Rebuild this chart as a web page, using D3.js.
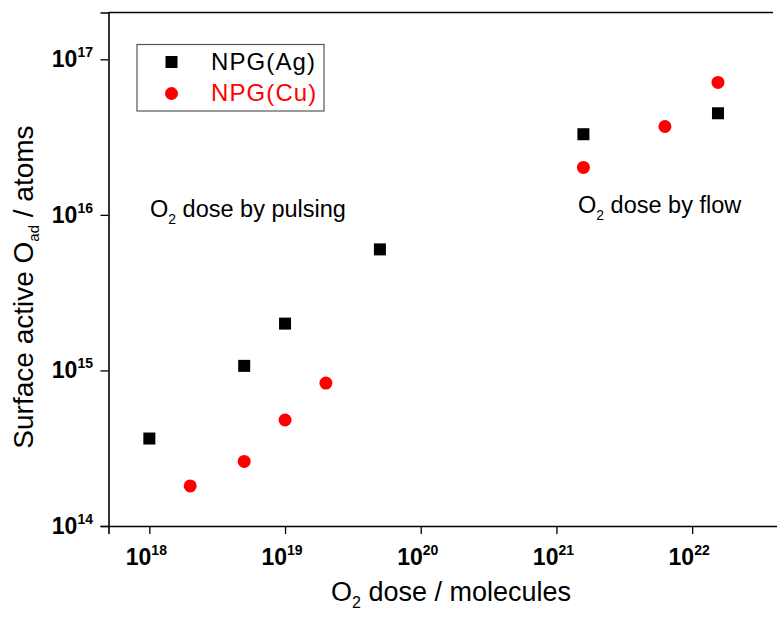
<!DOCTYPE html>
<html>
<meta charset="utf-8">
<style>
  body { margin: 0; background: #fff; }
  svg { font-family: Arial, "Liberation Sans", sans-serif; }
</style>

<body>
  <svg></svg>
</body>

<script src="https://d3js.org/d3.v7.min.js"></script>

<script>

  var W = 777, H = 621;

  var svg = d3.select("svg")
    .attr("width", W)
    .attr("height", H);

  // data
  var agDose = [1e18, 5e18, 1e19, 5e19, 1.58e21, 1.55e22];
  var agAtoms = [3.65e14, 1.07e15, 2.0e15, 6.0e15, 3.3e16, 4.5e16];
  var cuDose = [2e18, 5e18, 1e19, 2e19, 1.58e21, 6.3e21, 1.55e22];
  var cuAtoms = [1.81e14, 2.6e14, 4.8e14, 8.3e14, 2.02e16, 3.7e16, 7.1e16];
  var seriesNames = ["NPG(Ag)", "NPG(Cu)"];
  var seriesColors = ["#000000", "#ff0000"];
  var xMajor = [18, 19, 20, 21, 22];
  var yMajor = [14, 15, 16, 17];

  // plot edges (note: "top" is a reserved window prop, so plotTop)
  var plotLeft = 108.5, plotBottom = 526, plotTop = 12.5;
  var x = d3.scaleLog()
    .domain([5e17, 5e22])
    .range([plotLeft, plotLeft + 5 * 135.7]);
  var y = d3.scaleLog()
    .domain([1e14, 2e17])
    .range([plotBottom, plotTop]);

  // minor ticks 2..9 x 10^n
  var xMinor = [];
  for (var e = 17; e <= 22; e++) {
    for (var m = 2; m <= 9; m++) {
      var v = m * Math.pow(10, e);
      if (v > 5e17 && v < 5e22) xMinor.push(v);
    }
  }
  var yMinor = [];
  for (var e = 14; e <= 16; e++) {
    for (var m = 2; m <= 9; m++) yMinor.push(m * Math.pow(10, e));
  }

  // top frame line
  svg.append("line")
    .attr("x1", plotLeft).attr("x2", 773)
    .attr("y1", plotTop).attr("y2", plotTop)
    .attr("stroke", "#000").attr("stroke-width", 1.6);

  // x axis
  var gx = svg.append("g").attr("transform", "translate(0," + plotBottom + ")");
  gx.call(d3.axisBottom(x).tickValues(xMinor).tickSize(4).tickFormat(""));
  gx.call(d3.axisBottom(x).tickValues(xMajor.map(d => Math.pow(10, d))).tickSize(8).tickFormat(""));
  gx.selectAll(".domain").attr("stroke-width", 1.6);
  gx.selectAll(".tick line").attr("stroke-width", 1.3);

  xMajor.forEach(function (p) {
    var t = svg.append("text")
      .attr("x", x(Math.pow(10, p)) - 3)
      .attr("y", 565)
      .attr("text-anchor", "middle")
      .attr("font-size", 23)
      .attr("font-weight", "bold");
    t.append("tspan").text("10");
    t.append("tspan").attr("font-size", 14).attr("dy", -10).text(p);
  });

  // y axis
  var gy = svg.append("g").attr("transform", "translate(" + plotLeft + ",0)");
  gy.call(d3.axisLeft(y).tickValues(yMinor).tickSize(4).tickFormat(""));
  gy.call(d3.axisLeft(y).tickValues(yMajor.map(d => Math.pow(10, d))).tickSize(8).tickFormat(""));
  gy.selectAll(".domain").attr("stroke-width", 1.6);
  gy.selectAll(".tick line").attr("stroke-width", 1.3);

  yMajor.forEach(function (p) {
    var t = svg.append("text")
      .attr("x", 93)
      .attr("y", y(Math.pow(10, p)) + 8)
      .attr("text-anchor", "end")
      .attr("font-size", 23)
      .attr("font-weight", "bold");
    t.append("tspan").text("10");
    t.append("tspan").attr("font-size", 14).attr("dy", -10).text(p);
  });

  // axis titles
  var xt = svg.append("text")
    .attr("x", 451).attr("y", 601)
    .attr("text-anchor", "middle")
    .attr("font-size", 27);
  xt.append("tspan").text("O");
  xt.append("tspan").attr("font-size", 16).attr("dy", 7).text("2");
  xt.append("tspan").attr("dy", -7).text(" dose / molecules");

  var yt = svg.append("text")
    .attr("transform", "translate(33,287) rotate(-90)")
    .attr("text-anchor", "middle")
    .attr("font-size", 28);
  yt.append("tspan").text("Surface active O");
  yt.append("tspan").attr("font-size", 15).attr("dy", 6).text("ad");
  yt.append("tspan").attr("dy", -6).text(" / atoms");

  // annotations
  function note(tx, ty, rest) {
    var t = svg.append("text")
      .attr("x", tx).attr("y", ty)
      .attr("font-size", 23.5);
    t.append("tspan").text("O");
    t.append("tspan").attr("font-size", 14).attr("dy", 7).text("2");
    t.append("tspan").attr("dy", -7).text(" " + rest);
  }
  note(150, 217, "dose by pulsing");
  note(578, 213, "dose by flow");

  // points
  var sq = 12;
  svg.append("g").selectAll("rect")
    .data(d3.zip(agDose, agAtoms))
    .enter().append("rect")
    .attr("x", d => x(d[0]) - sq / 2)
    .attr("y", d => y(d[1]) - sq / 2)
    .attr("width", sq).attr("height", sq)
    .attr("fill", seriesColors[0]);

  svg.append("g").selectAll("circle")
    .data(d3.zip(cuDose, cuAtoms))
    .enter().append("circle")
    .attr("cx", d => x(d[0]))
    .attr("cy", d => y(d[1]))
    .attr("r", 6.5)
    .attr("fill", seriesColors[1]);

  // legend
  var lg = svg.append("g");
  lg.append("rect")
    .attr("x", 137).attr("y", 44.5)
    .attr("width", 187).attr("height", 66.5)
    .attr("fill", "none").attr("stroke", "#555").attr("stroke-width", 1.2);
  lg.append("rect")
    .attr("x", 171.5 - sq / 2).attr("y", 62 - sq / 2)
    .attr("width", sq).attr("height", sq)
    .attr("fill", seriesColors[0]);
  lg.append("circle")
    .attr("cx", 171.5).attr("cy", 93.5).attr("r", 6.5)
    .attr("fill", seriesColors[1]);
  lg.selectAll("text.lab")
    .data(seriesNames)
    .enter().append("text")
    .attr("x", 211)
    .attr("y", (d, i) => 70 + i * 31)
    .attr("font-size", 24)
    .attr("letter-spacing", 1.1)
    .attr("fill", (d, i) => seriesColors[i])
    .text(d => d);

</script>

</html>
